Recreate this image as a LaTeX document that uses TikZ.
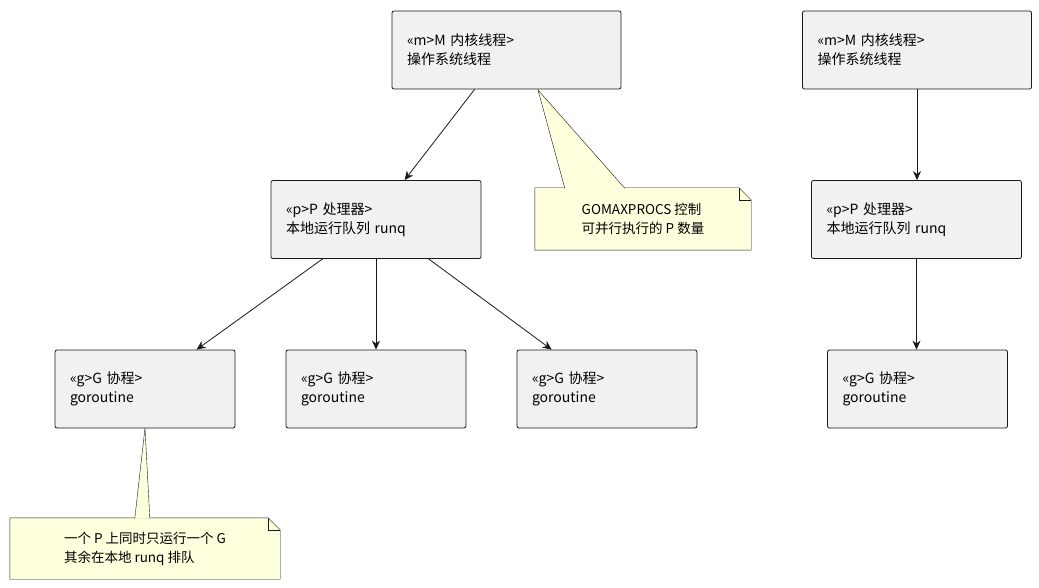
\documentclass[tikz,border=0pt]{standalone}
\usepackage{fontspec}
\setmainfont{Noto Sans CJK SC}
\usetikzlibrary{positioning, calc, arrows.meta}
\definecolor{boxfill}{HTML}{F1F1F1}
\definecolor{boxline}{HTML}{181818}
\definecolor{notefill}{HTML}{FEFFDD}
\definecolor{noteline}{HTML}{181818}
\tikzset{
Arrow/.style = {thick, draw=boxline, -{Stealth[length=9pt, width=8pt]}},
}
\begin{document}
\begin{tikzpicture}[x=1pt, y=-1pt,
			unit/.style = {rectangle, rounded corners=2pt, draw=boxline, fill=boxfill, thick, align=left,
				minimum height=78pt, text width=#1, inner xsep=15pt, font=\fontsize{14}{19}\selectfont},
			unit/.default = 150pt,
			note/.style = {rectangle, align=left, inner xsep=8pt, font=\fontsize{13.5}{19}\selectfont},
		]
		\useasboundingbox (0,0) rectangle (1039,588);

		\node[unit=199pt](M1) at (506.5,50){<<m>M 内核线程>\\操作系统线程};
		\node[unit=199pt](M2) at (917,50){<<m>M 内核线程>\\操作系统线程};
		\node[unit=180pt](P1) at (376,219.5){<<p>P 处理器>\\本地运行队列 runq};
		\node[unit=180pt](P2) at (916.5,219.5){<<p>P 处理器>\\本地运行队列 runq};
		\node[unit](G1) at (145,389){<<g>G 协程>\\goroutine};
		\node[unit](G2) at (376,389){<<g>G 协程>\\goroutine};
		\node[unit](G3) at (607,389){<<g>G 协程>\\goroutine};
		\node[unit](G4) at (917.5,389){<<g>G 协程>\\goroutine};

		\draw[Arrow](M1.south west)++(83,0) coordinate(m1s) (m1s)--($(P1.north west)+(134,0)$);
		\draw[Arrow](P1.south west)++(52,0)--($(G1.north west)+(142,0)$);
		\draw[Arrow](P1)+(0,39)--(G2.north);
		\draw[Arrow](P1.south west)++(158,0)--($(G3.north west)+(35,0)$);
		\draw[Arrow](M2)+(0,39)--(M2 |- P2.north);
		\draw[Arrow](P2)+(0,39)--(P2 |- G4.north);

		% notes
		\node[note, minimum width=216pt, minimum height=62pt](N1) at (643,219){GOMAXPROCS 控制\\可并行执行的 P 数量};
		\node[note, minimum width=270pt, minimum height=61pt](N2) at (145,548.5){一个 P 上同时只运行一个 G\\其余在本地 runq 排队};
		\foreach \n in {N1,N2}{
			\draw[draw=noteline, fill=notefill, thin] (\n.north west) -- ($(\n.north east)+(-12,0)$) -- ($(\n.north east)+(0,12)$) -- (\n.south east) -- (\n.south west) -- cycle;
			\draw[draw=noteline, thin] ($(\n.north east)+(-12,0)$) -- ($(\n.north east)+(-12,12)$) -- ($(\n.north east)+(0,12)$);
			\node[note, anchor=center] at (\n) {};
		}
		\draw[draw=noteline, fill=notefill, thin] ($(N1.north west)+(30,0.5)$) -- (538,90) -- ($(N1.north west)+(90,0.5)$);
		\draw[draw=noteline, fill=notefill, thin] ($(N2.north west)+(125,0.5)$) -- (145,428) -- ($(N2.north west)+(140,0.5)$);
		\node[note] at (N1){GOMAXPROCS 控制\\可并行执行的 P 数量};
		\node[note] at (N2){一个 P 上同时只运行一个 G\\其余在本地 runq 排队};
	\end{tikzpicture}
\end{document}
